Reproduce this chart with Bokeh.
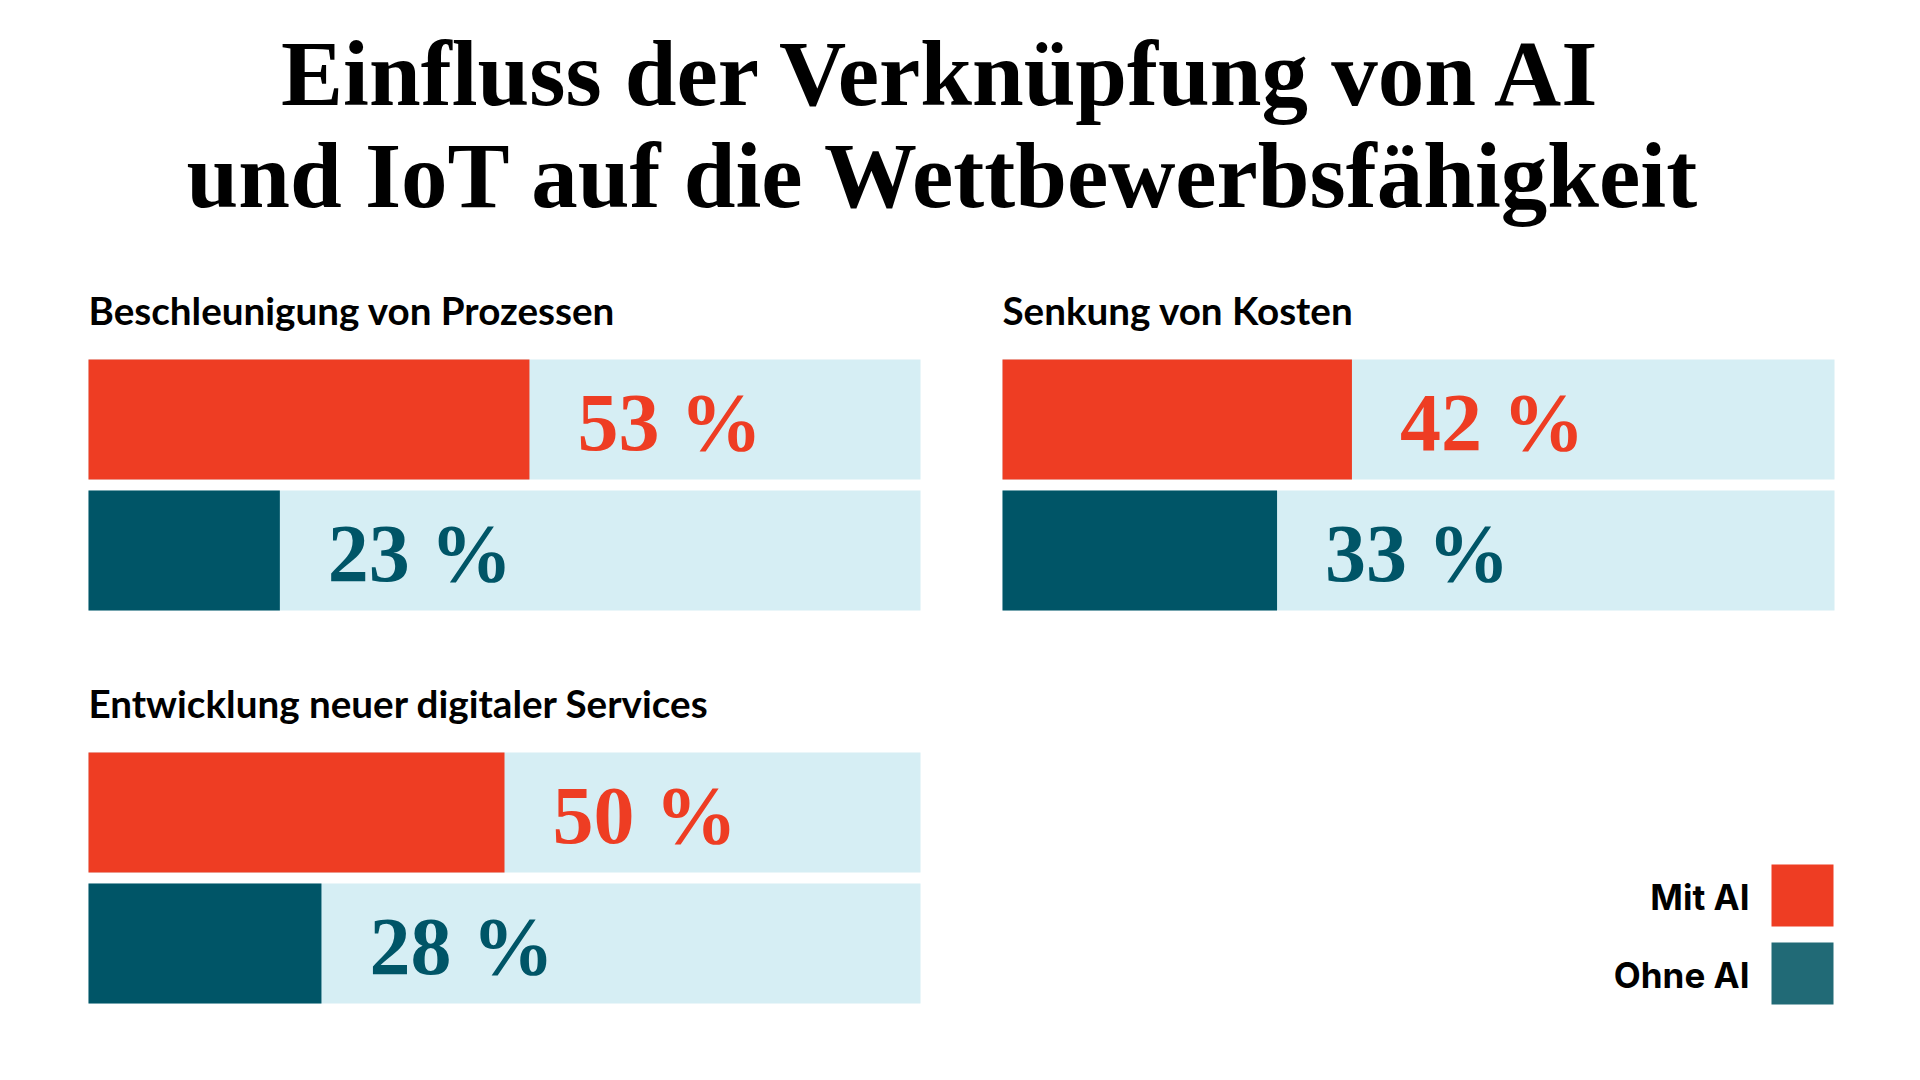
from bokeh.plotting import figure
from bokeh.models import Range1d, ColumnDataSource
from bokeh.core.properties import value
from bokeh.embed import file_html
from bokeh.resources import INLINE

# ---------------- data ----------------
title_lines = ["Einfluss der Verknüpfung von AI", "und IoT auf die Wettbewerbsfähigkeit"]
panel_titles = ["Beschleunigung von Prozessen", "Senkung von Kosten",
                "Entwicklung neuer digitaler Services"]
mit_ai = [53, 42, 50]
ohne_ai = [23, 33, 28]
series_names = ["Mit AI", "Ohne AI"]

# ---------------- style / layout ----------------
RED = "#ee3d23"
TEAL = "#005567"
TEAL_LEGEND = "#216a76"
BG = "#d6eef4"
W, H = 1904, 1064
PX_PER_PCT = 8.32          # horizontal pixels per percentage point
X0_PX = 88                 # left edge of the bar tracks (figure px)


def xu(px):
    return (px - X0_PX) / PX_PER_PCT


panel_x = [0, xu(1002), 0]         # left of each panel in % units
panel_top = [359, 359, 752]        # top of the red bar (px from top)
BAR_H = 120
GAP = 11

p = figure(width=W, height=H, output_backend="svg", toolbar_location=None,
           x_range=Range1d(xu(0), xu(W)), y_range=Range1d(H, 0),
           x_axis_type=None, y_axis_type=None, min_border=0,
           background_fill_color="white", border_fill_color="white")
p.grid.visible = False
p.outline_line_color = None

# tracks and bars
rows = {"left": [], "right_full": [], "right": [], "top": [], "bottom": [],
        "color": [], "label": [], "label_y": []}
for i in range(len(panel_titles)):
    for j, vals in enumerate([mit_ai, ohne_ai]):
        top = panel_top[i] + j * (BAR_H + GAP)
        rows["left"].append(panel_x[i])
        rows["right_full"].append(panel_x[i] + 100)
        rows["right"].append(panel_x[i] + vals[i])
        rows["top"].append(top)
        rows["bottom"].append(top + BAR_H)
        rows["color"].append(RED if j == 0 else TEAL)
        rows["label"].append(f"{vals[i]} %")
        rows["label_y"].append(top + 63)
src = ColumnDataSource(rows)

p.quad(left="left", right="right_full", top="top", bottom="bottom", source=src,
       fill_color=BG, line_color=None)
p.quad(left="left", right="right", top="top", bottom="bottom", source=src,
       fill_color="color", line_color=None)
p.text(x="right", y="label_y", text="label", source=src, x_offset=48,
       text_color="color", text_font=value("Liberation Serif"),
       text_font_style="bold", text_font_size="82px",
       text_baseline="alphabetic", text_align="left")

# panel titles
p.text(x=panel_x, y=[p_t - 50 for p_t in panel_top], text=panel_titles,
       text_font=value("Lato"), text_font_style="bold", text_font_size="38.6px",
       text_color="#000000", text_baseline="alphabetic", text_align="left")

# main title
p.text(x=[xu(943), xu(943)], y=[73, 175], text=title_lines,
       text_font=value("Liberation Serif"), text_font_style="bold",
       text_font_size="93px", text_color="#000000",
       text_baseline="alphabetic", text_align="center")

# legend
leg_top = [864, 942]
p.quad(left=[xu(1771)] * 2, right=[xu(1833)] * 2, top=leg_top,
       bottom=[t + 62 for t in leg_top], fill_color=[RED, TEAL_LEGEND], line_color=None)
p.text(x=[xu(1749)] * 2, y=[t + 32 for t in leg_top], text=series_names,
       text_font=value("Inter"), text_font_style="bold", text_font_size="35px",
       text_color="#000000", text_baseline="alphabetic", text_align="right")

open("out.html", "w").write(file_html(p, INLINE))
